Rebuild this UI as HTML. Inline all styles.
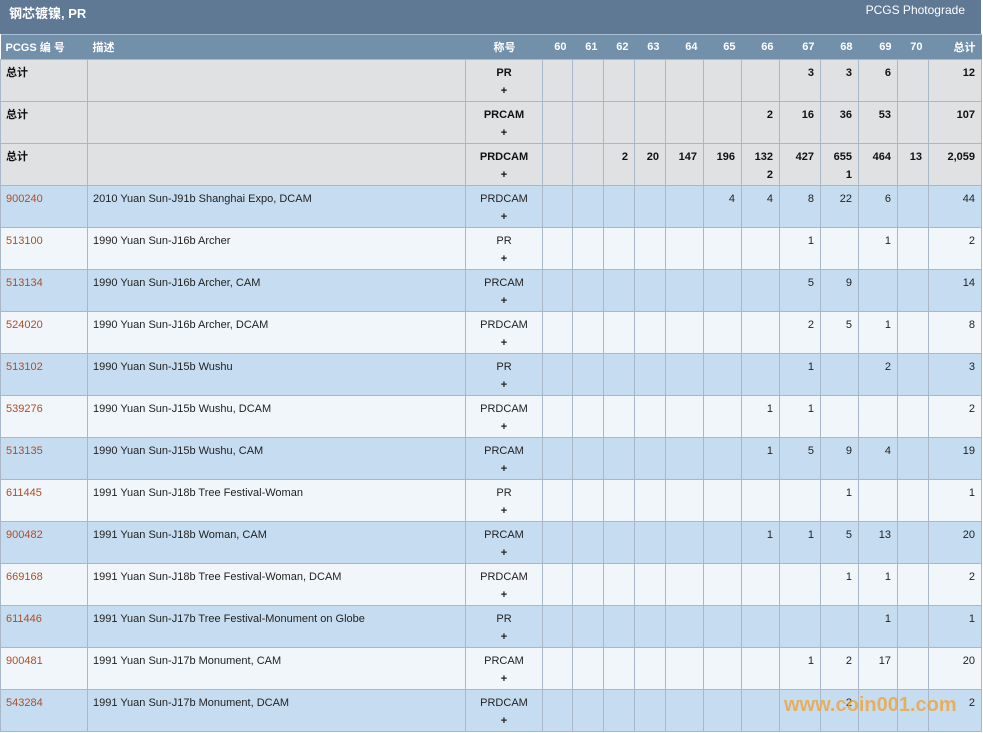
<!DOCTYPE html>
<html><head><meta charset="utf-8"><style>
body{margin:0;width:983px;height:733px;overflow:hidden;background:#fff;font-family:"Liberation Sans","Noto Sans CJK SC",sans-serif;font-size:11px;color:#222;position:relative}
.top{position:absolute;left:0;top:0;width:981px;height:34px;background:#5f7893;color:#fff}
.top .t{position:absolute;left:9px;top:3px;font-size:13px;font-weight:bold}
.top .r{position:absolute;right:16px;top:3px;font-size:12px}
table{position:absolute;left:0;top:34px;border-collapse:collapse;table-layout:fixed;width:981px}
th{background:#7390aa;color:#fff;height:24px;font-size:11px;text-align:right;padding:0 6px;border-top:1px solid #a8bfd6}
td{height:37px;border:1px solid #a9b8c8;vertical-align:top;padding:4px 6px 0;text-align:right;line-height:18px;white-space:nowrap;overflow:hidden}
tr.tot td{background:#e0e1e3;font-weight:bold;color:#111}
tr.b td{background:#c6ddf1}
tr.w td{background:#f1f6fa}
td.id,th.id{text-align:left;padding-left:5px}
td.id a{color:#b04c26}
td.g{text-align:center}
td.g b{font-weight:bold}
.wm{position:absolute;left:784px;top:694px;font-size:20px;font-weight:bold;color:#f0a030;opacity:.75}
</style></head><body>
<div class="top"><span class="t">钢芯镀镍, PR</span><span class="r">PCGS Photograde</span></div>
<table>
<colgroup><col style="width:87px"><col style="width:378px"><col style="width:77px"><col style="width:30px"><col style="width:31px"><col style="width:31px"><col style="width:31px"><col style="width:38px"><col style="width:38px"><col style="width:38px"><col style="width:41px"><col style="width:38px"><col style="width:39px"><col style="width:31px"><col style="width:53px"></colgroup>
<tr><th class="id">PCGS 编 号</th><th class="id">描述</th><th style="text-align:right;padding-right:27px">称号</th><th>60</th><th>61</th><th>62</th><th>63</th><th>64</th><th>65</th><th>66</th><th>67</th><th>68</th><th>69</th><th>70</th><th>总计</th></tr>
<tr class="tot"><td class="id">总计</td><td></td><td class="g">PR<br>+</td><td></td><td></td><td></td><td></td><td></td><td></td><td></td><td>3</td><td>3</td><td>6</td><td></td><td>12</td></tr>
<tr class="tot"><td class="id">总计</td><td></td><td class="g">PRCAM<br>+</td><td></td><td></td><td></td><td></td><td></td><td></td><td>2</td><td>16</td><td>36</td><td>53</td><td></td><td>107</td></tr>
<tr class="tot"><td class="id">总计</td><td></td><td class="g">PRDCAM<br>+</td><td></td><td></td><td>2</td><td>20</td><td>147</td><td>196</td><td>132<br>2</td><td>427</td><td>655<br>1</td><td>464</td><td>13</td><td>2,059</td></tr>
<tr class="b"><td class="id"><a>900240</a></td><td class="id">2010 Yuan Sun-J91b Shanghai Expo, DCAM</td><td class="g">PRDCAM<br><b>+</b></td><td></td><td></td><td></td><td></td><td></td><td>4</td><td>4</td><td>8</td><td>22</td><td>6</td><td></td><td>44</td></tr>
<tr class="w"><td class="id"><a>513100</a></td><td class="id">1990 Yuan Sun-J16b Archer</td><td class="g">PR<br><b>+</b></td><td></td><td></td><td></td><td></td><td></td><td></td><td></td><td>1</td><td></td><td>1</td><td></td><td>2</td></tr>
<tr class="b"><td class="id"><a>513134</a></td><td class="id">1990 Yuan Sun-J16b Archer, CAM</td><td class="g">PRCAM<br><b>+</b></td><td></td><td></td><td></td><td></td><td></td><td></td><td></td><td>5</td><td>9</td><td></td><td></td><td>14</td></tr>
<tr class="w"><td class="id"><a>524020</a></td><td class="id">1990 Yuan Sun-J16b Archer, DCAM</td><td class="g">PRDCAM<br><b>+</b></td><td></td><td></td><td></td><td></td><td></td><td></td><td></td><td>2</td><td>5</td><td>1</td><td></td><td>8</td></tr>
<tr class="b"><td class="id"><a>513102</a></td><td class="id">1990 Yuan Sun-J15b Wushu</td><td class="g">PR<br><b>+</b></td><td></td><td></td><td></td><td></td><td></td><td></td><td></td><td>1</td><td></td><td>2</td><td></td><td>3</td></tr>
<tr class="w"><td class="id"><a>539276</a></td><td class="id">1990 Yuan Sun-J15b Wushu, DCAM</td><td class="g">PRDCAM<br><b>+</b></td><td></td><td></td><td></td><td></td><td></td><td></td><td>1</td><td>1</td><td></td><td></td><td></td><td>2</td></tr>
<tr class="b"><td class="id"><a>513135</a></td><td class="id">1990 Yuan Sun-J15b Wushu, CAM</td><td class="g">PRCAM<br><b>+</b></td><td></td><td></td><td></td><td></td><td></td><td></td><td>1</td><td>5</td><td>9</td><td>4</td><td></td><td>19</td></tr>
<tr class="w"><td class="id"><a>611445</a></td><td class="id">1991 Yuan Sun-J18b Tree Festival-Woman</td><td class="g">PR<br><b>+</b></td><td></td><td></td><td></td><td></td><td></td><td></td><td></td><td></td><td>1</td><td></td><td></td><td>1</td></tr>
<tr class="b"><td class="id"><a>900482</a></td><td class="id">1991 Yuan Sun-J18b Woman, CAM</td><td class="g">PRCAM<br><b>+</b></td><td></td><td></td><td></td><td></td><td></td><td></td><td>1</td><td>1</td><td>5</td><td>13</td><td></td><td>20</td></tr>
<tr class="w"><td class="id"><a>669168</a></td><td class="id">1991 Yuan Sun-J18b Tree Festival-Woman, DCAM</td><td class="g">PRDCAM<br><b>+</b></td><td></td><td></td><td></td><td></td><td></td><td></td><td></td><td></td><td>1</td><td>1</td><td></td><td>2</td></tr>
<tr class="b"><td class="id"><a>611446</a></td><td class="id">1991 Yuan Sun-J17b Tree Festival-Monument on Globe</td><td class="g">PR<br><b>+</b></td><td></td><td></td><td></td><td></td><td></td><td></td><td></td><td></td><td></td><td>1</td><td></td><td>1</td></tr>
<tr class="w"><td class="id"><a>900481</a></td><td class="id">1991 Yuan Sun-J17b Monument, CAM</td><td class="g">PRCAM<br><b>+</b></td><td></td><td></td><td></td><td></td><td></td><td></td><td></td><td>1</td><td>2</td><td>17</td><td></td><td>20</td></tr>
<tr class="b"><td class="id"><a>543284</a></td><td class="id">1991 Yuan Sun-J17b Monument, DCAM</td><td class="g">PRDCAM<br><b>+</b></td><td></td><td></td><td></td><td></td><td></td><td></td><td></td><td></td><td>2</td><td></td><td></td><td>2</td></tr>
</table>
<div class="wm">www.coin001.com</div>
</body></html>
